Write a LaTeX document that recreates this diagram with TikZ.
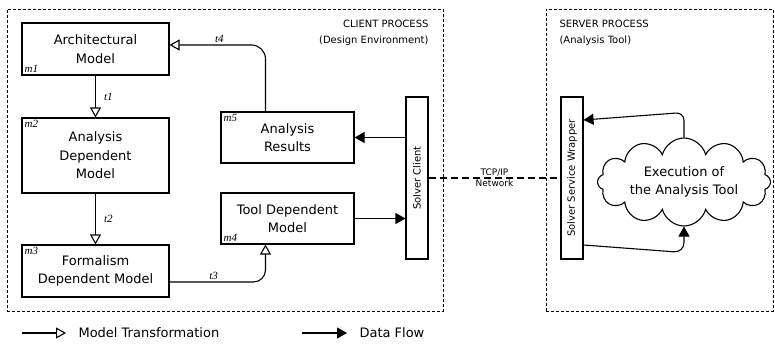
\documentclass[tikz,border=0pt]{standalone}
\usepackage{fontspec}
\setmainfont{DejaVu Sans}
\newfontfamily\labfont{Liberation Serif}
\usetikzlibrary{positioning, arrows.meta, shapes.symbols, calc}

\begin{document}
\begin{tikzpicture}[
  x=1pt, y=-1pt,
  font=\fontsize{13}{18.5}\selectfont,
  model/.style={draw, line width=1.1pt, align=center, inner sep=2pt},
  proc/.style={draw, dash pattern=on 3pt off 2pt, line width=0.9pt},
  bar/.style={draw, line width=1.1pt, minimum width=22, minimum height=162},
  mlab/.style={font=\labfont\itshape\fontsize{11}{12}\selectfont, inner sep=3pt},
  tlab/.style={font=\labfont\itshape\fontsize{11}{12}\selectfont, inner sep=2pt},
  small/.style={font=\fontsize{10}{16}\selectfont},
  tiny/.style={font=\fontsize{9}{11}\selectfont, inner sep=1pt},
  transf/.style={-{Triangle[open, length=10pt, width=11pt]}, line width=1.1pt},
  data/.style={-{Triangle[length=10pt, width=11pt]}, line width=1.1pt},
  net/.style={line width=2pt, dash pattern=on 7pt off 4pt},
]
\useasboundingbox (0,0) rectangle (775,345);

% ---- Process boundaries --------------------------------------------------
\node[proc, minimum width=436, minimum height=302] (client) at (225,160) {};
\node[proc, minimum width=227, minimum height=302] (server) at (659.5,160) {};
\node[small, anchor=north east, align=right] (clientT) at (432,17)
  {CLIENT PROCESS\\(Design Environment)};
\node[small, anchor=north west, align=left] (serverT) at (556,17)
  {SERVER PROCESS\\(Analysis Tool)};

% ---- Models ----------------------------------------------------------------
\node[model, minimum width=147, minimum height=52] (m1) at (95.5,49)
  {Architectural\\Model};
\node[model, minimum width=147, minimum height=75] (m2) at (95.5,155.5)
  {Analysis\\Dependent\\Model};
\node[model, minimum width=147, minimum height=52] (m3) at (95.5,271)
  {Formalism\\Dependent Model};
\node[model, minimum width=133, minimum height=51] (m4) at (287.5,218.5)
  {Tool Dependent\\Model};
\node[model, minimum width=133, minimum height=51] (m5) at (287.5,137.5)
  {Analysis\\Results};

\node[mlab, anchor=south west] (m1l) at (m1.south west) {m1};
\node[mlab, anchor=north west] (m2l) at (m2.north west) {m2};
\node[mlab, anchor=north west] (m3l) at (m3.north west) {m3};
\node[mlab, anchor=south west] (m4l) at (m4.south west) {m4};
\node[mlab, anchor=north west] (m5l) at (m5.north west) {m5};

% ---- Solver ends -----------------------------------------------------------
\node[bar] (sc) at (417,178) {};
\node[small, rotate=90] (scT) at (sc) {Solver Client};
\node[bar] (ssw) at (572,178) {};
\node[small, rotate=90] (sswT) at (ssw) {Solver Service Wrapper};

\node[cloud, draw, line width=1.1pt, cloud puffs=12, cloud ignores aspect,
      minimum width=173, minimum height=88, inner sep=0pt, align=center]
  (exec) at (684,182) {Execution of\\the Analysis Tool};

% ---- Model transformations -------------------------------------------------
\draw[transf] (m1) -- node[tlab, right=6pt] (t1) {t1} (m2);
\draw[transf] (m2) -- node[tlab, right=6pt] (t2) {t2} (m3);
\draw[transf, rounded corners=12] ([yshift=-11pt]m3.east)
  -| node[tlab, above, pos=0.23] (t3) {t3} ([xshift=-22pt]m4.south);
\draw[transf, rounded corners=14] ([xshift=-22pt]m5.north)
  |- node[tlab, above, pos=0.74] (t4) {t4} ([yshift=4pt]m1.east);

% ---- Data flow -------------------------------------------------------------
\draw[data] (sc.west |- m5) -- (m5);
\draw[data] (m4) -- (m4 -| sc.west);
\draw[net] (sc) -- node[tiny, above] (tcp) {TCP/IP}
  node[tiny, below] (network) {Network} (ssw);
\draw[data, rounded corners=8] (exec.north) -- ++(0,-25)
  -- ([yshift=58pt]ssw.east);
\draw[data, rounded corners=10] ([yshift=-67pt]ssw.east)
  -- ($(exec.south)+(0,26)$) -- (exec.south);

% ---- Legend ----------------------------------------------------------------
\coordinate (lt0) at (22,333);
\coordinate (lt1) at (66,333);
\draw[transf] (lt0) -- (lt1);
\node[right=9pt of lt1] (ltT) {Model Transformation};
\coordinate (ld0) at (302,333);
\coordinate (ld1) at (347,333);
\draw[data] (ld0) -- (ld1);
\node[right=9pt of ld1] (ldT) {Data Flow};

\end{tikzpicture}
\end{document}
